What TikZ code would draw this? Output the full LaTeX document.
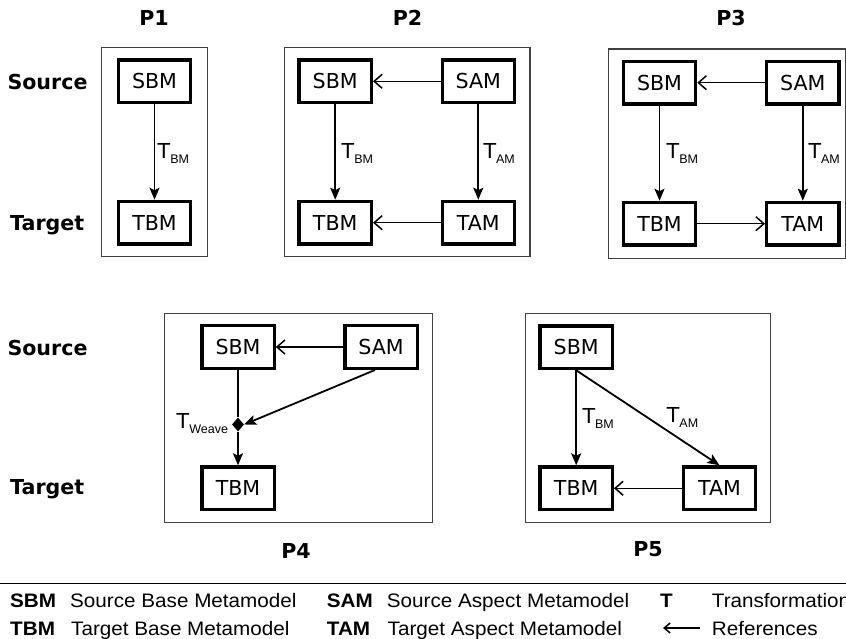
\documentclass[tikz,border=0pt]{standalone}
\usepackage{fontspec}
\setmainfont{DejaVu Sans}
\newfontfamily\legendfont[FakeStretch=1.06]{Liberation Sans}
\newfontfamily\subfont{Liberation Sans}
\usetikzlibrary{arrows.meta,shapes.geometric}

% transformation label: T with a lowered, smaller index
\newcommand{\tsub}[1]{{\fontsize{20.6}{24}\selectfont T}\raisebox{-5pt}{\subfont\fontsize{12.5}{14}\selectfont #1}}

\tikzset{
  mm/.style={draw, line width=3.3pt, minimum width=72.3pt, minimum height=42.7pt,
             inner sep=0pt, font=\fontsize{20.6}{24}\selectfont},
  frame/.style={draw=black!75, line width=1.2pt},
  tf/.style={line width=1.8pt, -{Stealth[length=12pt,width=10pt,inset=2.5pt]}},
  plainline/.style={line width=1.8pt},
  ref/.style={line width=1.5pt, -{Straight Barb[length=8pt,width=14pt]}},
  rowlbl/.style={anchor=base west, inner sep=0pt, font=\bfseries\fontsize{20.6}{24}\selectfont},
  ttl/.style={anchor=base, inner sep=0pt, font=\bfseries\fontsize{20.6}{24}\selectfont},
  tlbl/.style={anchor=base west, inner sep=0pt},
  lgb/.style={anchor=base west, inner sep=0pt, font=\legendfont\bfseries\fontsize{19.5}{22}\selectfont},
  lgt/.style={anchor=base west, inner sep=0pt, font=\legendfont\fontsize{19.5}{22}\selectfont},
}

\begin{document}
\begin{tikzpicture}[x=1pt,y=-1pt]
\clip (0,0) rectangle (846,639);

% ---------- row labels ----------
\node[rowlbl] (src1) at (7.3,89.3) {Source};
\node[rowlbl] (tgt1) at (10,230) {Target};
\node[rowlbl] (src2) at (7.3,355) {Source};
\node[rowlbl] (tgt2) at (10,494.3) {Target};

% ---------- P1 ----------
\node[ttl] (p1) at (154,26) {P1};
\draw[frame] (101.7,47.3) rectangle (207.3,256.7);
\node[mm] (sbm1) at (154.5,81.3) {SBM};
\node[mm] (tbm1) at (154.5,222.7) {TBM};
\draw[tf] (sbm1.south) -- (tbm1.north);
\node[tlbl] (t1) at (157.5,158.3) {\tsub{BM}};

% ---------- P2 ----------
\node[ttl] (p2) at (407.5,26) {P2};
\draw[frame] (284.3,47.3) rectangle (530,256.7);
\node[mm] (sbm2) at (335.2,81.3) {SBM};
\node[mm] (sam2) at (478.3,81.3) {SAM};
\node[mm] (tbm2) at (335.2,222.7) {TBM};
\node[mm] (tam2) at (478.3,222.7) {TAM};
\draw[ref] (sam2.west) -- (sbm2.east);
\draw[ref] (tam2.west) -- (tbm2.east);
\draw[tf] (sbm2.south) -- (tbm2.north);
\draw[tf] (sam2.south) -- (tam2.north);
\node[tlbl] (t2a) at (341.5,158.3) {\tsub{BM}};
\node[tlbl] (t2b) at (483.3,158.3) {\tsub{AM}};

% ---------- P3 ----------
\node[ttl] (p3) at (731,26) {P3};
\draw[frame] (608.7,49) rectangle (845.2,258.3);
\node[mm] (sbm3) at (659.5,82.7) {SBM};
\node[mm] (sam3) at (802.8,82.7) {SAM};
\node[mm] (tbm3) at (659.5,223.7) {TBM};
\node[mm] (tam3) at (802.8,223.7) {TAM};
\draw[ref] (sam3.west) -- (sbm3.east);
\draw[ref] (tbm3.east) -- (tam3.west);
\draw[tf] (sbm3.south) -- (tbm3.north);
\draw[tf] (sam3.south) -- (tam3.north);
\node[tlbl] (t3a) at (666.5,158.3) {\tsub{BM}};
\node[tlbl] (t3b) at (808.3,158.3) {\tsub{AM}};

% ---------- P4 ----------
\node[ttl] (p4) at (296,558) {P4};
\draw[frame] (164.3,313.3) rectangle (432.7,522.3);
\node[mm] (sbm4) at (238,347) {SBM};
\node[mm] (sam4) at (381,347) {SAM};
\node[mm] (tbm4) at (238,488.3) {TBM};
\node[diamond, fill=black, inner sep=0pt, minimum width=12pt, minimum height=14pt] (weave) at (238,424.5) {};
\draw[ref] (sam4.west) -- (sbm4.east);
\draw[plainline] (sbm4.south) -- (weave.north);
\draw[tf] ([xshift=-6pt]sam4.south) -- (weave.east);
\draw[tf] (weave.south) -- (tbm4.north);
\node[tlbl] (t4) at (176.5,428) {\tsub{Weave}};

% ---------- P5 ----------
\node[ttl] (p5) at (648,556) {P5};
\draw[frame] (525.3,313.3) rectangle (770.7,522.3);
\node[mm] (sbm5) at (576.2,347.3) {SBM};
\node[mm] (tbm5) at (576.2,488.3) {TBM};
\node[mm] (tam5) at (719.5,488.3) {TAM};
\draw[tf] (sbm5.south) -- (tbm5.north);
\draw[tf] (sbm5.south) -- (tam5.north);
\draw[ref] (tam5.west) -- (tbm5.east);
\node[tlbl] (t5a) at (582.3,423) {\tsub{BM}};
\node[tlbl] (t5b) at (666.7,422.3) {\tsub{AM}};

% ---------- legend ----------
\draw[line width=1.3pt] (0,583.3) -- (846,583.3);
\node[lgb] (k1) at (10,607.7) {SBM};
\node[lgt] (d1) at (70,607.7) {Source Base Metamodel};
\node[lgb] (k2) at (10,635) {TBM};
\node[lgt] (d2) at (71,635) {Target Base Metamodel};
\node[lgb] (k3) at (326.7,607.7) {SAM};
\node[lgt] (d3) at (386.7,607.7) {Source Aspect Metamodel};
\node[lgb] (k4) at (326.7,635) {TAM};
\node[lgt] (d4) at (387.5,635) {Target Aspect Metamodel};
\node[lgb] (k5) at (660,607.7) {T};
\node[lgt] (d5) at (711.7,607.7) {Transformation};
\coordinate (ra) at (700,628);
\coordinate (rb) at (663,628);
\draw[line width=1.5pt, -{Straight Barb[length=6pt,width=10pt]}] (ra) -- (rb);
\node[lgt] (d6) at (711.7,635) {References};
\end{tikzpicture}
\end{document}
